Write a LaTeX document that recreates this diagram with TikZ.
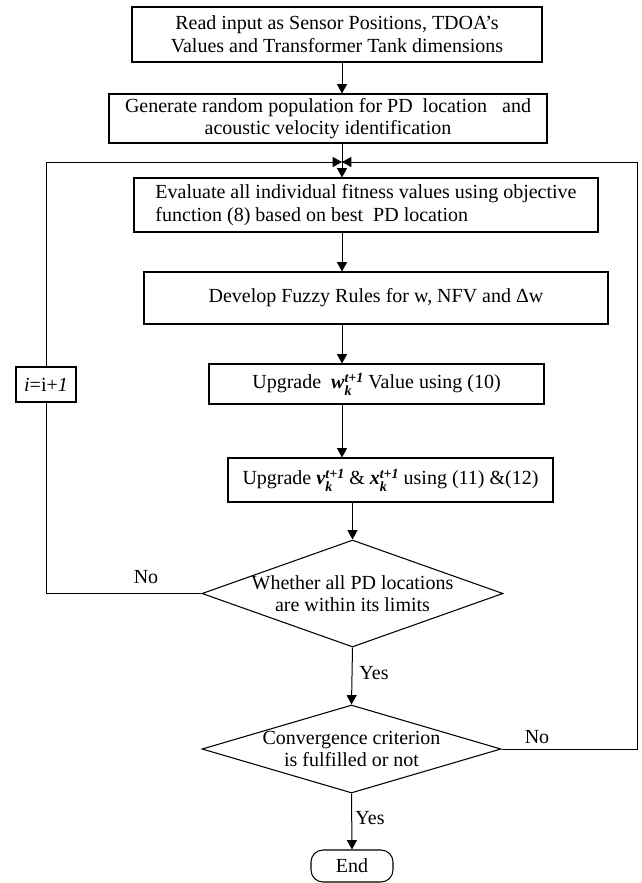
\documentclass[tikz,border=0pt]{standalone}
\usepackage{fontspec}
\setmainfont{Liberation Serif}
\usetikzlibrary{arrows.meta,shapes.geometric}
\newcommand{\bsi}[1]{\textbf{\textit{#1}}}
\newcommand{\supsubx}[2]{\rlap{\raisebox{-0.33em}{\fontsize{10.5}{10.5}\selectfont\bsi{#2}}}\raisebox{0.32em}{\fontsize{10.5}{10.5}\selectfont\bsi{#1}}}
\begin{document}
\begin{tikzpicture}[x=0.75pt,y=-0.75pt,
  every node/.style={font=\fontsize{15}{17}\selectfont},
  box/.style={draw, line width=0.8pt, inner sep=0pt, align=center},
  dia/.style={draw, diamond, line width=0.8pt, inner sep=0pt},
  arr/.style={line width=0.75pt, -{Triangle[length=7pt,width=7.5pt]}},
  ln/.style={line width=0.75pt},
  lbl/.style={inner sep=0pt}]
\useasboundingbox (0,0) rectangle (642,883);
\fill[white] (0,0) rectangle (642,883);

\node[box, minimum width=307.5pt, minimum height=41.25pt] (b1) at (337,34.5)
  {Read input as Sensor Positions, TDOA’s\\Values and Transformer Tank dimensions};
\node[box, minimum width=328.5pt, minimum height=36.75pt] (b2) at (328,118.5)
  {Generate random population for PD\ \ location\ \ \ and\\acoustic velocity identification};
\node[box, align=left, minimum width=348pt, minimum height=40.5pt] (ev) at (366,205)
  {Evaluate all individual fitness values using objective\\function (8) based on best\ \ PD location};
\node[box, minimum width=348pt, minimum height=39pt] (dv) at (376,298)
  {Develop Fuzzy Rules for w, NFV and Δw};
\node[box, minimum width=251.25pt, minimum height=30pt] (w) at (376.5,384)
  {Upgrade\ \ \bsi{w}\supsubx{t+1}{k} Value using (10)};
\node[box, minimum width=243.75pt, minimum height=33pt] (v) at (390.5,480)
  {Upgrade \bsi{v}\supsubx{t+1}{k} \& \bsi{x}\supsubx{t+1}{k} using (11) \&(12)};
\node[dia, minimum width=225.75pt, minimum height=80.25pt,
  label={[align=center]center:{Whether all PD locations\\are within its limits}}] (d1) at (352.5,593.5) {};
\node[dia, minimum width=224.25pt, minimum height=66pt,
  label={[align=center]center:{Convergence criterion\\is fulfilled or not}}] (d2) at (351.5,749) {};
\node[draw, line width=0.8pt, rounded corners=9pt, minimum width=61.5pt, minimum height=24pt, inner sep=0pt] (e) at (352,866) {End};
\node[box, minimum width=45pt, minimum height=26.25pt] (ib) at (46,384.5) {\textit{i}=i+\textit{1}};

\coordinate (mg) at (342,162);
\coordinate (rc) at (637,162);

\draw[arr] (b1.south -| mg) -- (b2.north -| mg);
\draw[arr] (b2.south -| mg) -- (ev.north -| mg);
\draw[arr] (ev.south -| mg) -- (dv.north -| mg);
\draw[arr] (dv.south -| mg) -- (w.north -| mg);
\draw[arr] (w.south -| mg) -- (v.north -| mg);
\draw[arr] (v.south -| d1) -- (d1.north);
\draw[arr] (d1.south) -- (d2.north);
\draw[arr] (d2.south) -- (e.north);

\draw[ln] (d1.west) -| (ib.south);
\draw[arr] (ib.north) |- (mg);
\draw[arr] (d2.east) -| (rc) -- (mg);

\node[lbl] (no1) at (146,577) {No};
\node[lbl] (yes1) at (374,673) {Yes};
\node[lbl] (no2) at (537,737) {No};
\node[lbl] (yes2) at (370,818) {Yes};
\end{tikzpicture}
\end{document}
